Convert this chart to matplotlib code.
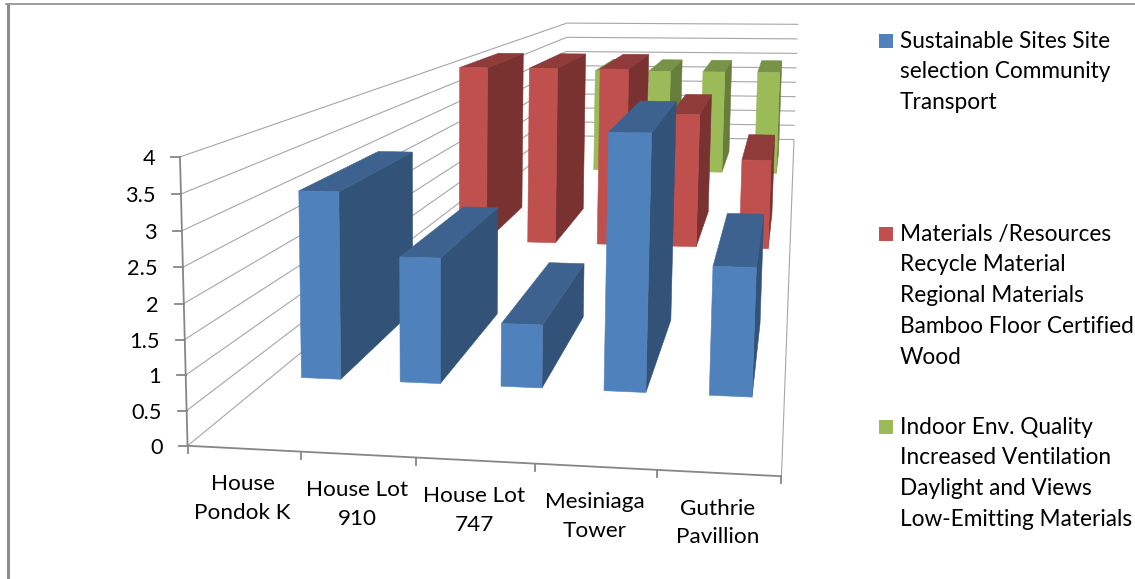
import matplotlib
matplotlib.use('Agg')
import matplotlib.pyplot as plt
import numpy as np

plt.rcParams['font.family'] = ['Lato', 'DejaVu Sans']

categories = ['House\nPondok K', 'House Lot\n910', 'House Lot\n747', 'Mesiniaga\nTower', 'Guthrie\nPavillion']
series_names = ['Sustainable Sites Site\nselection Community\nTransport',
                'Materials /Resources\nRecycle Material\nRegional Materials\nBamboo Floor Certified\nWood',
                'Indoor Env. Quality\nIncreased Ventilation\nDaylight and Views\nLow-Emitting Materials']
sustainable_sites = [3, 2, 1, 4, 2]
materials = [4, 4, 4, 3, 2]
indoor_env = [3, 3, 3, 3, 3]
value_ticks = [0, 0.5, 1, 1.5, 2, 2.5, 3, 3.5, 4]
value_tick_labels = ['0', '0.5', '1', '1.5', '2', '2.5', '3', '3.5', '4']

# front, side, top shades per series
blue = ('#4F81BD', '#335277', '#3D628F')
red = ('#C0504D', '#7A3230', '#8E3B39')
green = ('#9BBB59', '#677D3B', '#779347')
GRID = '#a6a6a6'
AXIS = '#868686'

n_cat = len(categories)
n_ser = len(series_names)
top = max(value_ticks)

# corners of the chart box (category, series, value) and where they sit in the picture
box_corners = [(0, 0, 0), (n_cat, 0, 0), (0, 0, top),
               (n_cat, n_ser, 0), (0, n_ser, top), (n_cat, n_ser, top)]
box_pixels = [(187, 445), (782, 476), (180, 158),
              (794, 140), (567, 23), (798, 24)]


def fit_camera(corners, pixels):
    rows = []
    for (x, y, z), (u, v) in zip(corners, pixels):
        rows.append([x, y, z, 1, 0, 0, 0, 0, -u * x, -u * y, -u * z, -u])
        rows.append([0, 0, 0, 0, x, y, z, 1, -v * x, -v * y, -v * z, -v])
    return np.linalg.svd(np.array(rows, dtype=float))[2][-1].reshape(3, 4)


camera = fit_camera(box_corners, box_pixels)


def project(x, y, z):
    u, v, w = camera @ np.array([x, y, z, 1.0])
    return u / w, v / w


def draw_line(ax, start, end, **kwargs):
    a, b = project(*start), project(*end)
    ax.plot([a[0], b[0]], [a[1], b[1]], solid_capstyle='butt', **kwargs)


def draw_face(ax, corners, color, zorder):
    pts = [project(*c) for c in corners]
    ax.fill([p[0] for p in pts], [p[1] for p in pts], color=color, lw=0.4, zorder=zorder)


def draw_bar(ax, cat, ser, value, shades, zorder):
    x0, x1 = cat + 0.3, cat + 0.7
    y0, y1 = ser + 0.3, ser + 0.7
    draw_face(ax, [(x1, y0, 0), (x1, y1, 0), (x1, y1, value), (x1, y0, value)], shades[1], zorder)
    draw_face(ax, [(x0, y0, value), (x1, y0, value), (x1, y1, value), (x0, y1, value)], shades[2], zorder)
    draw_face(ax, [(x0, y0, 0), (x1, y0, 0), (x1, y0, value), (x0, y0, value)], shades[0], zorder)


fig = plt.figure(figsize=(11.35, 5.79), dpi=100)
ax = fig.add_axes([0, 0, 1, 1])
ax.set_xlim(0, 1135)
ax.set_ylim(579, 0)
ax.axis('off')

# picture border, top and left only
ax.plot([6, 1135], [4.3, 4.3], color='#8c8c8c', lw=1.2, zorder=1)
ax.plot([7.5, 7.5], [3.5, 579], color='#8c8c8c', lw=2.2, zorder=1, solid_capstyle='butt')

# walls
for tick in value_ticks:
    draw_line(ax, (0, 0, tick), (0, n_ser, tick), color=GRID, lw=0.8, zorder=1)
    draw_line(ax, (0, n_ser, tick), (n_cat, n_ser, tick), color=GRID, lw=0.8, zorder=1)
draw_line(ax, (n_cat, 0, 0), (n_cat, n_ser, 0), color=GRID, lw=0.8, zorder=1)

# axes and ticks
draw_line(ax, (0, 0, 0), (0, 0, top), color=AXIS, lw=1.3, zorder=2)
draw_line(ax, (0, 0, 0), (n_cat, 0, 0), color=AXIS, lw=1.3, zorder=2)
for tick, label in zip(value_ticks, value_tick_labels):
    px, py = project(0, 0, tick)
    ax.plot([px - 9, px], [py, py], color=AXIS, lw=1.3, zorder=2)
    ax.text(px - 25, py + 2, label, ha='right', va='center', fontsize=15.7, color='black')
for i in range(n_cat + 1):
    px, py = project(i, 0, 0)
    ax.plot([px, px], [py, py + 7], color=AXIS, lw=1.3, zorder=2)
for i, label in enumerate(categories):
    px, py = project(i + 0.5, 0, 0)
    ax.text(px - 1, py + 25.5, label, ha='center', va='top', fontsize=16.2, color='black', linespacing=1.55)

# back row first, left to right
for ser, (values, shades) in reversed(list(enumerate(zip([sustainable_sites, materials, indoor_env], [blue, red, green])))):
    for cat, value in enumerate(values):
        draw_bar(ax, cat, ser, value, shades, 5 + (n_ser - ser) + cat * 0.1)

# legend
legend_y = [41, 234, 427]
for name, shades, y in zip(series_names, [blue, red, green], legend_y):
    ax.fill([879, 893, 893, 879], [y - 7, y - 7, y + 7, y + 7], color=shades[0], lw=0)
    ax.text(900, y - 10.5, name, ha='left', va='top', fontsize=16.3, color='black', linespacing=1.58)

fig.savefig('out.png', dpi=100)
